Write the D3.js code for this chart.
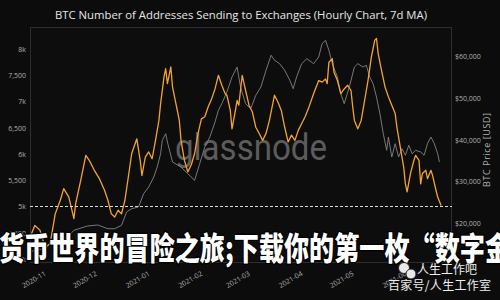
<!DOCTYPE html>
<html>
<head>
<meta charset="utf-8">
<script src="https://cdn.jsdelivr.net/npm/d3@7"></script>
<style>
  body { margin: 0; background: #0c0c0c; }
  svg { display: block; }
</style>
</head>
<body>
<svg id="canvas"></svg>
<script>
const width = 500;
const height = 300;
const margin = { top: 27, right: 48, bottom: 37, left: 30 };

const title = 'BTC Number of Addresses Sending to Exchanges (Hourly Chart, 7d MA)';

// addresses sending to exchanges (7d MA)
const addrDates = [
  '2020-10-23', '2020-10-26', '2020-10-29', '2020-11-01', '2020-11-04', '2020-11-07', '2020-11-10', '2020-11-12', '2020-11-15', '2020-11-18',
  '2020-11-19', '2020-11-22', '2020-11-25', '2020-11-27', '2020-11-30', '2020-12-03', '2020-12-06', '2020-12-08', '2020-12-10', '2020-12-12',
  '2020-12-14', '2020-12-16', '2020-12-18', '2020-12-20', '2020-12-22', '2020-12-25', '2020-12-27', '2020-12-28', '2020-12-30', '2021-01-01',
  '2021-01-03', '2021-01-05', '2021-01-07', '2021-01-08', '2021-01-10', '2021-01-11', '2021-01-12', '2021-01-14', '2021-01-15', '2021-01-17',
  '2021-01-19', '2021-01-20', '2021-01-22', '2021-01-24', '2021-01-26', '2021-01-28', '2021-01-30', '2021-02-01', '2021-02-03', '2021-02-05',
  '2021-02-07', '2021-02-09', '2021-02-11', '2021-02-13', '2021-02-15', '2021-02-16', '2021-02-18', '2021-02-19', '2021-02-21', '2021-02-22',
  '2021-02-23', '2021-02-25', '2021-02-27', '2021-03-01', '2021-03-03', '2021-03-05', '2021-03-07', '2021-03-09', '2021-03-11', '2021-03-13',
  '2021-03-16', '2021-03-18', '2021-03-20', '2021-03-22', '2021-03-24', '2021-03-26', '2021-03-28', '2021-03-30', '2021-04-01', '2021-04-03',
  '2021-04-05', '2021-04-08', '2021-04-11', '2021-04-13', '2021-04-15', '2021-04-16', '2021-04-17', '2021-04-19', '2021-04-20', '2021-04-22',
  '2021-04-24', '2021-04-26', '2021-04-28', '2021-04-30', '2021-05-01', '2021-05-02', '2021-05-04', '2021-05-06', '2021-05-08', '2021-05-10',
  '2021-05-12', '2021-05-14', '2021-05-15', '2021-05-16', '2021-05-18', '2021-05-20', '2021-05-22', '2021-05-24', '2021-05-26', '2021-05-27',
  '2021-05-29', '2021-05-31', '2021-06-01', '2021-06-02', '2021-06-04', '2021-06-06', '2021-06-07', '2021-06-09', '2021-06-10', '2021-06-11',
  '2021-06-13', '2021-06-14', '2021-06-16', '2021-06-17', '2021-06-19', '2021-06-20', '2021-06-22',
];
const addrValues = [
  4400, 4640, 4550, 4230, 4290, 4860, 5120, 5340, 5180, 4770,
  5050, 5500, 5975, 5880, 5690, 5530, 5310, 5120, 4860, 4800,
  4930, 4860, 5120, 5560, 6010, 6290, 5880, 5590, 5940, 6040,
  5910, 6260, 6640, 6960, 7470, 7625, 7340, 7660, 7280, 6960,
  6640, 6260, 5880, 5660, 5790, 6010, 6390, 6670, 6710, 6900,
  7050, 7240, 7500, 7310, 7150, 7120, 6830, 6480, 6830, 7020,
  6930, 7500, 7210, 6930, 6800, 6510, 6390, 6260, 6390, 6640,
  7120, 6990, 6830, 6510, 6230, 6360, 6260, 6450, 6580, 6710,
  6870, 7150, 7400, 7370, 7430, 7340, 7750, 7815, 7560, 7400,
  7150, 7240, 7310, 7210, 6900, 6640, 6480, 6640, 7020, 7400,
  7850, 8170, 8200, 7910, 7590, 7280, 7090, 6930, 6770, 6510,
  6130, 5750, 5430, 5280, 5630, 5880, 5975, 5880, 5430, 5630,
  5690, 5530, 5690, 5590, 5310, 5180, 5020,
];

// BTC price
const priceDates = [
  '2020-10-23', '2020-10-28', '2020-11-01', '2020-11-05', '2020-11-10', '2020-11-13', '2020-11-18', '2020-11-26', '2020-12-02', '2020-12-08',
  '2020-12-12', '2020-12-16', '2020-12-19', '2020-12-22', '2020-12-26', '2020-12-29', '2021-01-01', '2021-01-04', '2021-01-06', '2021-01-08',
  '2021-01-09', '2021-01-11', '2021-01-12', '2021-01-15', '2021-01-20', '2021-01-24', '2021-01-28', '2021-01-31', '2021-02-03', '2021-02-06',
  '2021-02-09', '2021-02-11', '2021-02-13', '2021-02-16', '2021-02-19', '2021-02-22', '2021-02-24', '2021-02-27', '2021-03-02', '2021-03-05',
  '2021-03-08', '2021-03-11', '2021-03-14', '2021-03-16', '2021-03-19', '2021-03-22', '2021-03-25', '2021-03-27', '2021-03-29', '2021-04-01',
  '2021-04-04', '2021-04-08', '2021-04-11', '2021-04-13', '2021-04-15', '2021-04-17', '2021-04-19', '2021-04-22', '2021-04-24', '2021-04-26',
  '2021-04-29', '2021-05-02', '2021-05-04', '2021-05-07', '2021-05-09', '2021-05-11', '2021-05-13', '2021-05-15', '2021-05-17', '2021-05-19',
  '2021-05-21', '2021-05-22', '2021-05-24', '2021-05-26', '2021-05-28', '2021-05-30', '2021-06-01', '2021-06-03', '2021-06-05', '2021-06-07',
  '2021-06-10', '2021-06-12', '2021-06-14', '2021-06-16', '2021-06-18', '2021-06-20', '2021-06-21',
];
const priceValues = [
  13000, 13700, 13800, 15500, 15300, 16200, 18250, 19280, 19520, 18630,
  18630, 19450, 22650, 23440, 23850, 27050, 28660, 31070, 33470, 36670,
  39890, 41480, 39490, 34680, 33470, 31860, 30270, 34270, 38280, 40690,
  44300, 47110, 48700, 51510, 55120, 57520, 52710, 48700, 47490, 50720,
  52710, 56730, 60340, 59130, 58320, 56730, 54320, 52300, 55120, 58320,
  59520, 58320, 59930, 63130, 63940, 61540, 58320, 55120, 51100, 48700,
  52710, 57520, 58320, 57520, 57930, 55120, 53510, 50310, 46290, 41480,
  37490, 40690, 35880, 39080, 35880, 37870, 36290, 38690, 36670, 37490,
  37080, 36290, 39080, 40690, 39080, 36670, 34680,
];

const addrTicks = [4000, 4500, 5000, 5500, 6000, 6500, 7000, 7500, 8000];
const addrTickLabels = ['4k', '4,500', '5k', '5,500', '6k', '6,500', '7k', '7,500', '8k'];
const priceTicks = [20000, 30000, 40000, 50000, 60000];
const priceTickLabels = ['$20,000', '$30,000', '$40,000', '$50,000', '$60,000'];
const monthTicks = ['2020-11-01', '2020-12-01', '2021-01-01', '2021-02-01', '2021-03-01', '2021-04-01', '2021-05-01', '2021-06-01'];
const monthLabels = ['2020-11', '2020-12', '2021-01', '2021-02', '2021-03', '2021-04', '2021-05', '2021-06'];
const thresholdValue = 5000;

const overlayText = '货币世界的冒险之旅;下载你的第一枚“数字金';

const parse = d3.utcParse('%Y-%m-%d');
const addrData = addrDates.map((d, i) => [parse(d), addrValues[i]]);
const priceData = priceDates.map((d, i) => [parse(d), priceValues[i]]);

const svg = d3.select('#canvas')
  .attr('width', width)
  .attr('height', height)
  .style('background-color', '#0c0c0c');

// scales
const xScale = d3.scaleUtc()
  .domain([new Date(Date.UTC(2020, 9, 23, 4)), new Date(Date.UTC(2021, 5, 28, 10))])
  .range([margin.left, width - margin.right]);
const yAddr = d3.scaleLinear().domain([3924, 8420]).range([height - margin.bottom, margin.top]);
const yPrice = d3.scaleLinear().domain([10385, 67140]).range([height - margin.bottom, margin.top]);

// title
svg.append('text')
  .attr('x', 55)
  .attr('y', 19)
  .attr('textLength', 372)
  .attr('lengthAdjust', 'spacingAndGlyphs')
  .attr('fill', '#e6e6e6')
  .style('font', '11px "Open Sans", sans-serif')
  .text(title);

// plot frame
svg.append('rect')
  .attr('x', margin.left + 0.5)
  .attr('y', margin.top + 0.5)
  .attr('width', width - margin.left - margin.right - 1)
  .attr('height', height - margin.top - margin.bottom - 1)
  .attr('fill', '#0d0d0d')
  .attr('stroke', '#2e2e2e');

// axes
const axisFont = (g) => {
  g.select('.domain').remove();
  g.selectAll('text')
    .attr('fill', '#b0b0b0')
    .style('font', '7px "Open Sans", sans-serif');
};

svg.append('g')
  .attr('transform', `translate(${margin.left}, 0)`)
  .call(d3.axisLeft(yAddr).tickValues(addrTicks).tickSize(0).tickPadding(4)
    .tickFormat((d, i) => addrTickLabels[i]))
  .call(axisFont);

svg.append('g')
  .attr('transform', `translate(${width - margin.right}, 0)`)
  .call(d3.axisRight(yPrice).tickValues(priceTicks).tickSize(0).tickPadding(3)
    .tickFormat((d, i) => priceTickLabels[i]))
  .call(axisFont);

const xAxis = svg.append('g')
  .attr('transform', `translate(0, ${height - margin.bottom})`)
  .call(d3.axisBottom(xScale).tickValues(monthTicks.map(parse)).tickSize(0)
    .tickFormat((d, i) => monthLabels[i]))
  .call(axisFont);
xAxis.selectAll('text')
  .attr('text-anchor', 'end')
  .attr('y', 0)
  .attr('dy', 0)
  .attr('transform', 'translate(1, 12) rotate(-30)');

svg.append('text')
  .attr('transform', 'translate(490, 150) rotate(-90)')
  .attr('text-anchor', 'middle')
  .attr('textLength', 74)
  .attr('fill', '#b0b0b0')
  .style('font', '9px "Open Sans", sans-serif')
  .text('BTC Price [USD]');

// glassnode watermark
svg.append('text')
  .attr('x', 175)
  .attr('y', 160)
  .attr('textLength', 152)
  .attr('lengthAdjust', 'spacingAndGlyphs')
  .attr('fill', '#5c5c5c')
  .style('font', '400 36px Roboto, sans-serif')
  .text('glassnode');

// lines
const line = (y) => d3.line().x((d) => xScale(d[0])).y((d) => y(d[1]));

svg.append('path')
  .datum(priceData)
  .attr('fill', 'none')
  .attr('stroke', '#8a8a8a')
  .attr('stroke-width', 1)
  .attr('stroke-opacity', 0.85)
  .attr('d', line(yPrice));

svg.append('path')
  .datum(addrData)
  .attr('fill', 'none')
  .attr('stroke', '#f2a431')
  .attr('stroke-width', 1.3)
  .attr('stroke-linejoin', 'round')
  .attr('d', line(yAddr));

// 5k threshold
svg.append('line')
  .attr('x1', margin.left)
  .attr('x2', width - margin.right)
  .attr('y1', yAddr(thresholdValue))
  .attr('y2', yAddr(thresholdValue))
  .attr('stroke', '#d8d8d8')
  .attr('stroke-width', 1.2)
  .attr('stroke-dasharray', '3,2');

// overlaid caption and watermark
svg.append('text')
  .attr('x', -1)
  .attr('y', 260)
  .attr('textLength', 511)
  .attr('lengthAdjust', 'spacingAndGlyphs')
  .attr('fill', '#ffffff')
  .attr('stroke', '#000')
  .attr('stroke-width', 2.5)
  .attr('paint-order', 'stroke')
  .style('font', '900 32px "Noto Sans CJK SC", sans-serif')
  .text(overlayText);

const wm = svg.append('g');
wm.append('circle').attr('cx', 404).attr('cy', 268).attr('r', 5.5)
  .attr('fill', '#e8e8e8').attr('stroke', '#222');
wm.append('circle').attr('cx', 411).attr('cy', 274).attr('r', 5)
  .attr('fill', '#e8e8e8').attr('stroke', '#222');
wm.append('text')
  .attr('x', 417)
  .attr('y', 274)
  .attr('fill', '#f0f0f0')
  .attr('stroke', '#111')
  .attr('stroke-width', 0.6)
  .attr('paint-order', 'stroke')
  .style('font', '12px "Noto Sans CJK SC", sans-serif')
  .text('人生工作吧');
wm.append('text')
  .attr('x', 388)
  .attr('y', 290)
  .attr('textLength', 103)
  .attr('fill', '#f0f0f0')
  .attr('stroke', '#111')
  .attr('stroke-width', 0.6)
  .attr('paint-order', 'stroke')
  .style('font', '12px "Noto Sans CJK SC", sans-serif')
  .text('百家号/人生工作室');
</script>
</body>
</html>
